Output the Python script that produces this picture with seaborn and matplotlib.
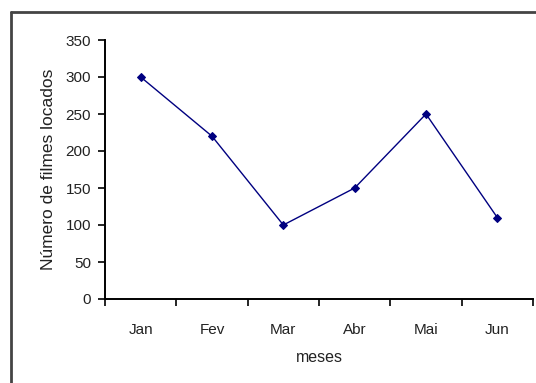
import matplotlib
matplotlib.use("Agg")
import matplotlib.pyplot as plt
import seaborn as sns
import pandas as pd
from matplotlib.lines import Line2D

# Monthly rentals
meses = ["Jan", "Fev", "Mar", "Abr", "Mai", "Jun"]
filmes = [300, 220, 100, 150, 250, 110]
y_ticks = [0, 50, 100, 150, 200, 250, 300, 350]

sns.set_theme(style="white")
plt.rcParams["font.family"] = ["Liberation Sans", "DejaVu Sans"]

df = pd.DataFrame({"mes": meses, "filmes": filmes})
df["pos"] = range(len(meses))

fig = plt.figure(figsize=(5.36, 3.83), dpi=100)
ax = fig.add_axes([105 / 536, 1 - 299 / 383, (533 - 105) / 536, (299 - 40) / 383])

sns.lineplot(data=df, x="pos", y="filmes", ax=ax, sort=False,
             color="#000080", linewidth=1.0, marker="D", markersize=4.5,
             markeredgecolor="#000080")

# category axis: ticks between categories, labels centred on each one
ax.set_xlim(-0.5, len(meses) - 0.5)
ax.set_xticks(range(len(meses)))
ax.set_xticklabels(meses)
ax.set_xticks([i - 0.5 for i in range(len(meses) + 1)], minor=True)
ax.tick_params(axis="x", which="major", length=0, pad=17, labelsize=11, colors="#222222")
ax.tick_params(axis="x", which="minor", length=5, width=1.2, color="black", direction="out", bottom=True)

ax.set_ylim(0, 350)
ax.set_yticks(y_ticks)
ax.tick_params(axis="y", length=5, width=1.2, color="black", direction="out", left=True,
               pad=5, labelsize=11, labelcolor="#222222")

ax.set_xlabel("meses", fontsize=11.5, labelpad=10, color="#222222")
ax.set_ylabel("Número de filmes locados", fontsize=12.5, labelpad=7, color="#222222")

for side in ("top", "right"):
    ax.spines[side].set_visible(False)
for side in ("left", "bottom"):
    ax.spines[side].set_color("black")
    ax.spines[side].set_linewidth(1.4)
ax.grid(False)

# outer chart-area border (top and left edges)
fig.add_artist(Line2D([11 / 536, 1.0], [1 - 12 / 383, 1 - 12 / 383],
                      transform=fig.transFigure, color="#444444", linewidth=2))
fig.add_artist(Line2D([11 / 536, 11 / 536], [0.0, 1 - 12 / 383],
                      transform=fig.transFigure, color="#444444", linewidth=2))

fig.savefig("out.png", dpi=100, facecolor="white")
